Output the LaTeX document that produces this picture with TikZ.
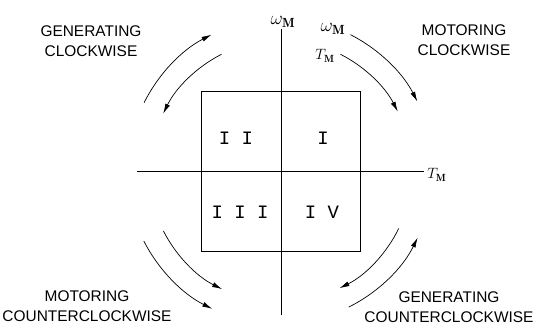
\RequirePackage{fix-cm}
\documentclass[tikz,border=0pt]{standalone}
\usepackage{amsmath}
\usepackage{fontspec}
\usetikzlibrary{arrows.meta}
\newfontfamily\modefont{Liberation Sans}
\newfontfamily\quadfont{Liberation Mono}

\begin{document}
\begin{tikzpicture}[x=1bp,y=1bp,line width=0.8pt,
        turn/.style={-{Latex[length=10bp,width=5bp]},line width=0.7pt},
        mode/.style={align=center,font=\modefont\fontsize{15.5}{20}\selectfont},
        quadnum/.style={font=\quadfont\fontsize{19}{19}\selectfont},
        var/.style={font=\fontsize{15}{17}\selectfont,inner sep=1bp},
        speed/.style={font=\fontsize{19}{21}\selectfont,inner sep=1bp}]
        \useasboundingbox (-281,-155) rectangle (253,171);

        % Axes
        \coordinate (O) at (0,0);
        \coordinate (xl) at (-144,0);
        \coordinate (xr) at (143,0);
        \coordinate (yb) at (0,-144);
        \coordinate (yt) at (0,142);
        \draw (xl) -- (xr);
        \draw (yb) -- (yt);
        \node[var,anchor=west] (tx) at ([shift={(2,-4)}]xr) {$T_{\mathbf{M}}$};
        \node[speed,anchor=south] (wy) at ([shift={(2,0)}]yt) {$\omega_{\mathbf{M}}$};

        % Square and quadrants
        \draw (-80,-80) rectangle (79,80);
        \node[quadnum] (q1) at (42,33) {I};
        \node[quadnum] (q2) at (-45,33) {I I};
        \node[quadnum] (q3) at (-41,-41) {I I I};
        \node[quadnum] (q4) at (41,-41) {I V};

        % Quadrant I
        \draw[turn] (O) ++(63:153) arc[start angle=63, end angle=27, radius=153];
        \draw[turn] (O) ++(63:131) arc[start angle=63, end angle=27, radius=131];
        \node[speed] (wq) at (52,142) {$\omega_{\mathbf{M}}$};
        \node[var] (tq) at (44,115) {$T_{\mathbf{M}}$};
        \node[mode] (mcw) at (183,131) {MOTORING\\CLOCKWISE};

        % Quadrant II
        \draw[turn] (O) ++(153.5:153) arc[start angle=153.5, end angle=117, radius=153];
        \draw[turn] (O) ++(117:131) arc[start angle=117, end angle=154, radius=131];
        \node[mode] (gcw) at (-190,130) {GENERATING\\CLOCKWISE};

        % Quadrant III
        \draw[turn] (O) ++(207:132) arc[start angle=207, end angle=243.5, radius=132];
        \draw[turn] (O) ++(207:154) arc[start angle=207, end angle=243.5, radius=154];
        \node[mode] (mccw) at (-194,-135) {MOTORING\\COUNTERCLOCKWISE};

        % Quadrant IV
        \draw[turn] (O) ++(-26:131) arc[start angle=-26, end angle=-63.5, radius=131];
        \draw[turn] (O) ++(-63.5:152) arc[start angle=-63.5, end angle=-26, radius=152];
        \node[mode] (gccw) at (168,-136) {GENERATING\\COUNTERCLOCKWISE};
\end{tikzpicture}
\end{document}
